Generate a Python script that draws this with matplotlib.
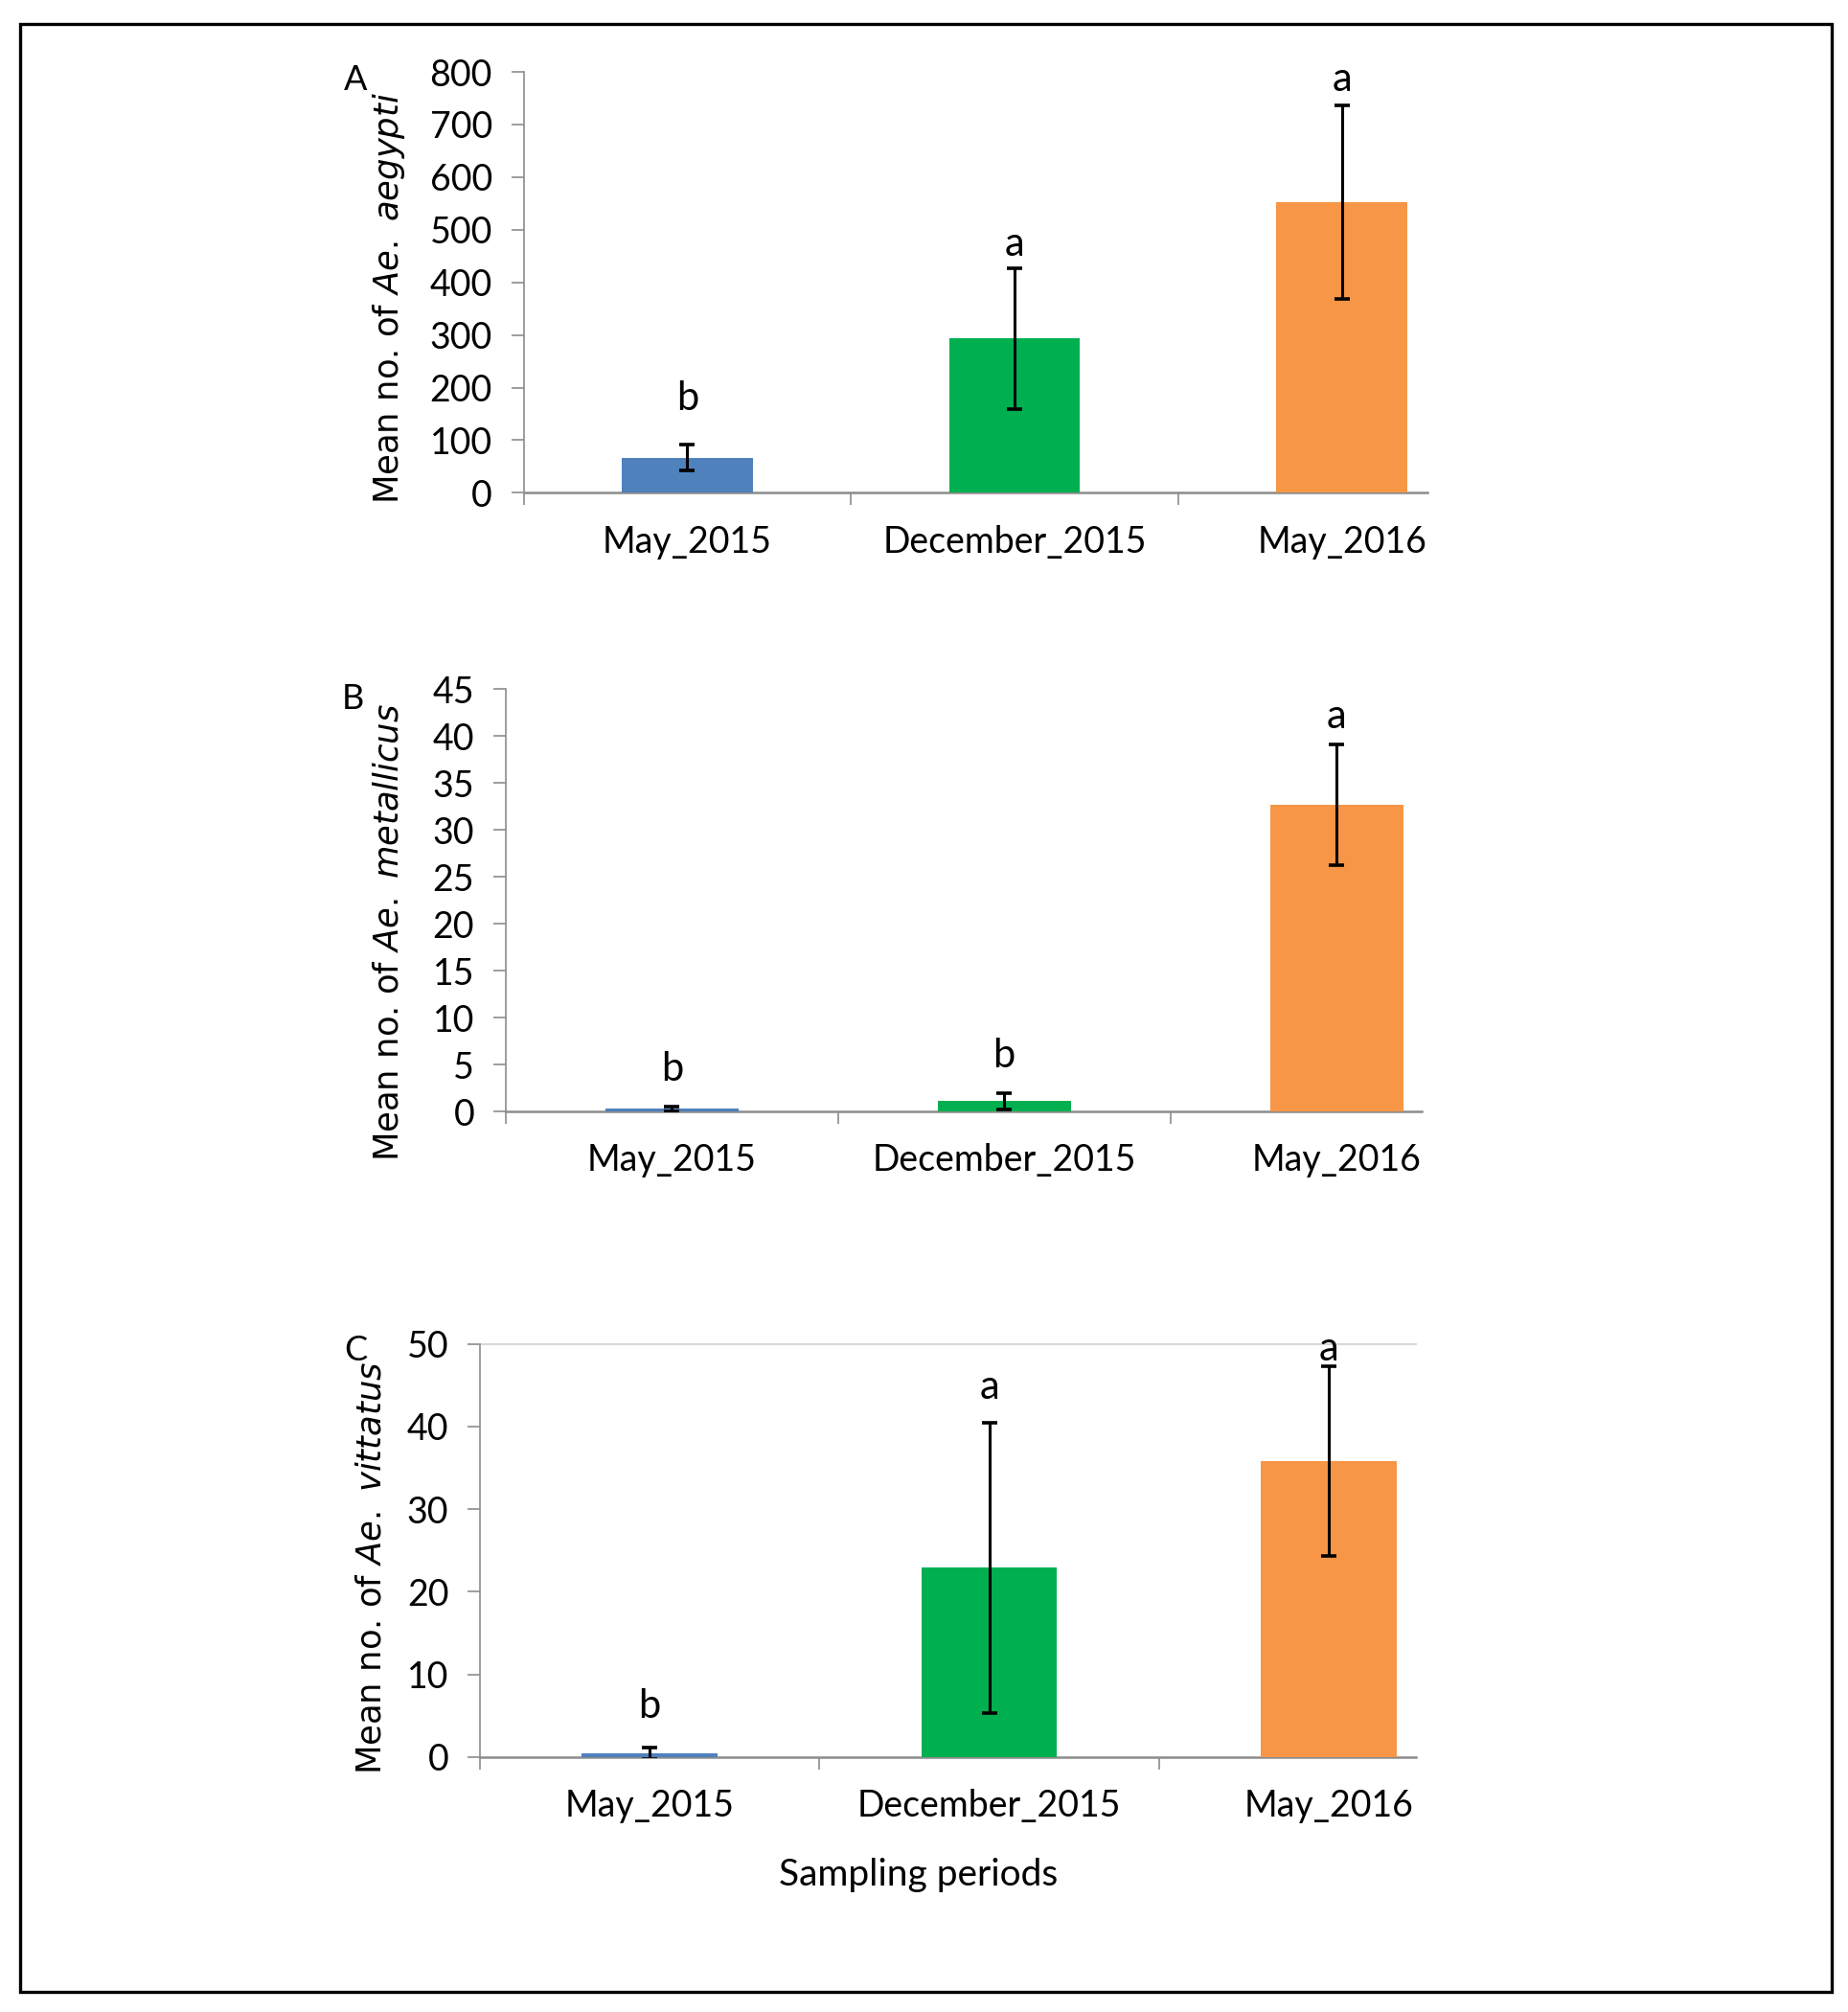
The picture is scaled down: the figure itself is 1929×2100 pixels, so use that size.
import matplotlib
matplotlib.use("Agg")
import matplotlib.pyplot as plt
import matplotlib.patches as patches
import numpy as np

# data
periods = ["May_2015", "December_2015", "May_2016"]
bar_colors = ["#4F81BD", "#00B050", "#F79646"]

aegypti_mean = [67, 293, 553]
aegypti_err = [25, 133, 184]
aegypti_letters = ["b", "a", "a"]
aegypti_letter_y = [180, 473, 785]

metallicus_mean = [0.3, 1.1, 32.7]
metallicus_err = [0.25, 0.85, 6.4]
metallicus_letters = ["b", "b", "a"]
metallicus_letter_y = [4.5, 5.9, 42.1]

vittatus_mean = [0.45, 22.9, 35.8]
vittatus_err = [0.7, 17.6, 11.5]
vittatus_letters = ["b", "a", "a"]
vittatus_letter_y = [6.1, 44.7, 49.4]

W, H = 1929, 2100
fig = plt.figure(figsize=(W / 100, H / 100), dpi=100)
fig.patch.set_facecolor("white")

TICK_FONT = "Lato"
AXIS_GRAY = "#8c8c8c"


def px_rect(left, top, right, bottom):
    """Figure-fraction rect from pixel box."""
    return [left / W, 1 - bottom / H, (right - left) / W, (bottom - top) / H]


def draw_panel(rect, means, errs, letters, letter_y, ymax, ystep, xmax, top_line=False):
    ax = fig.add_axes(rect)
    x = np.arange(len(periods))
    ax.bar(x, means, width=0.4, color=bar_colors, zorder=2,
           yerr=errs,
           error_kw=dict(ecolor="black", elinewidth=2.2, capsize=6, capthick=2.6, zorder=3))
    for xi, lab, ly in zip(x, letters, letter_y):
        ax.text(xi, ly, lab, ha="center", va="center", fontsize=30, family=TICK_FONT)

    ax.set_xlim(-0.5, xmax)
    ax.set_ylim(0, ymax)
    ax.set_yticks(np.arange(0, ymax + ystep / 2, ystep))
    ax.set_xticks([-0.5, 0.5, 1.5])
    ax.set_xticklabels([])
    ax.set_xticks(x, minor=True)
    ax.set_xticklabels(periods, minor=True)
    ax.tick_params(axis="x", which="major", length=9.5, width=1.2, color=AXIS_GRAY, direction="out")
    ax.tick_params(axis="x", which="minor", length=0, pad=24, labelsize=27)
    ax.tick_params(axis="y", length=9.5, width=1.2, color=AXIS_GRAY, direction="out",
                   pad=14, labelsize=27)
    for lab in ax.get_xticklabels(minor=True) + ax.get_yticklabels():
        lab.set_family(TICK_FONT)

    for side in ["top", "right"]:
        ax.spines[side].set_visible(False)
    ax.spines["left"].set_color(AXIS_GRAY)
    ax.spines["left"].set_linewidth(1.2)
    ax.spines["bottom"].set_color(AXIS_GRAY)
    ax.spines["bottom"].set_linewidth(1.8)
    ax.spines["bottom"].set_zorder(1)
    if top_line:
        ax.axhline(ymax, color="#d9d9d9", lw=1.5, clip_on=False)
    return ax


draw_panel(px_rect(546.5, 75, 1489.6, 514.4), aegypti_mean, aegypti_err,
           aegypti_letters, aegypti_letter_y, 800, 100, 2.26)
draw_panel(px_rect(527.8, 719.4, 1484.3, 1160.1), metallicus_mean, metallicus_err,
           metallicus_letters, metallicus_letter_y, 45, 5, 2.257)
draw_panel(px_rect(501, 1402.6, 1477.6, 1833.9), vittatus_mean, vittatus_err,
           vittatus_letters, vittatus_letter_y, 50, 10, 2.256, top_line=True)

# y labels with italic species names
ylabels = [
    (r"Mean no. of $\mathit{Ae.\ aegypti}$", 406, 311),
    (r"Mean no. of $\mathit{Ae.\ metallicus}$", 406, 973),
    (r"Mean no. of $\mathit{Ae.\ vittatus}$", 388, 1636),
]
for txt, px, py in ylabels:
    fig.text(px / W, 1 - py / H, txt, rotation=90, ha="center", va="center",
             fontsize=25.5, family="DejaVu Sans")

# panel letters
for lab, px, py in [("A", 371, 84), ("B", 368, 729), ("C", 371, 1409)]:
    fig.text(px / W, 1 - py / H, lab, ha="center", va="center", fontsize=26, family=TICK_FONT)

fig.text(959 / W, 1 - 1957 / H, "Sampling periods", ha="center", va="center",
         fontsize=28, family=TICK_FONT)

# outer frame
frame = patches.Rectangle((21 / W, 1 - 2079 / H), (1912 - 21) / W, (2079 - 25) / H,
                          transform=fig.transFigure, fill=False, edgecolor="black",
                          linewidth=2.4)
fig.patches.append(frame)

fig.savefig("out.png", dpi=100, facecolor="white")
